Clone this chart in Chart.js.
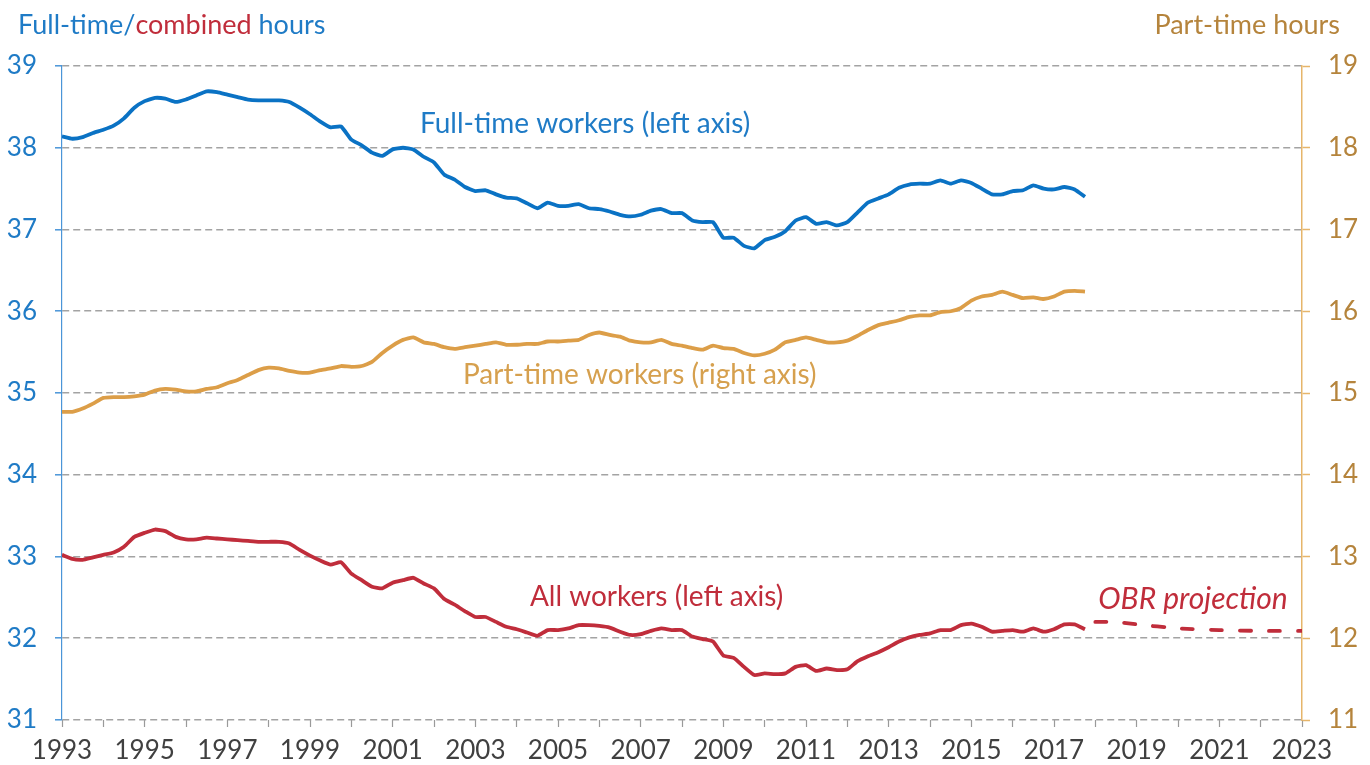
<!DOCTYPE html>
<html>
<head>
<meta charset="utf-8">
<script src="https://cdn.jsdelivr.net/npm/chart.js@4.4.0/dist/chart.umd.min.js"></script>
<style>
  html, body { margin: 0; padding: 0; background: #fff; }
</style>
</head>
<body>
<canvas id="hoursChart" width="1370" height="765"></canvas>
<script>
// quarterly series, 1993 Q1 .. 2017 Q4
const startYear = 1993;

const fullTime = [
  38.14, 38.11, 38.13, 38.18,  38.22, 38.27, 38.36, 38.49,
  38.57, 38.61, 38.60, 38.56,  38.59, 38.64, 38.69, 38.68,
  38.65, 38.62, 38.59, 38.58,  38.58, 38.58, 38.56, 38.49,
  38.41, 38.32, 38.25, 38.26,  38.10, 38.03, 37.94, 37.90,
  37.98, 38.00, 37.98, 37.89,  37.82, 37.67, 37.61, 37.52,
  37.47, 37.48, 37.43, 37.39,  37.38, 37.32, 37.26, 37.33,
  37.29, 37.29, 37.31, 37.26,  37.25, 37.22, 37.18, 37.16,
  37.18, 37.23, 37.25, 37.20,  37.20, 37.11, 37.09, 37.09,
  36.90, 36.90, 36.80, 36.77,  36.87, 36.91, 36.98, 37.11,
  37.15, 37.07, 37.09, 37.05,  37.09, 37.21, 37.33, 37.38,
  37.43, 37.51, 37.55, 37.56,  37.56, 37.60, 37.56, 37.60,
  37.57, 37.50, 37.43, 37.43,  37.47, 37.48, 37.54, 37.50,
  37.49, 37.52, 37.49, 37.40
];

const partTime = [
  14.77, 14.77, 14.81, 14.87,  14.94, 14.95, 14.95, 14.96,
  14.98, 15.03, 15.05, 15.04,  15.02, 15.02, 15.05, 15.07,
  15.12, 15.16, 15.22, 15.28,  15.31, 15.30, 15.27, 15.25,
  15.25, 15.28, 15.30, 15.33,  15.32, 15.33, 15.38, 15.49,
  15.58, 15.65, 15.68, 15.62,  15.60, 15.56, 15.54, 15.56,
  15.58, 15.60, 15.62, 15.59,  15.59, 15.60, 15.60, 15.63,
  15.63, 15.64, 15.65, 15.71,  15.74, 15.71, 15.69, 15.64,
  15.62, 15.62, 15.65, 15.60,  15.58, 15.55, 15.53, 15.58,
  15.55, 15.54, 15.49, 15.46,  15.48, 15.53, 15.62, 15.65,
  15.68, 15.65, 15.62, 15.62,  15.64, 15.70, 15.77, 15.83,
  15.86, 15.89, 15.93, 15.95,  15.95, 15.99, 16.00, 16.04,
  16.13, 16.18, 16.20, 16.24,  16.20, 16.16, 16.17, 16.15,
  16.18, 16.24, 16.25, 16.24
];

const allWorkers = [
  33.02, 32.97, 32.96, 32.99,  33.02, 33.05, 33.12, 33.24,
  33.29, 33.33, 33.31, 33.24,  33.21, 33.21, 33.23, 33.22,
  33.21, 33.20, 33.19, 33.18,  33.18, 33.18, 33.16, 33.08,
  33.01, 32.95, 32.90, 32.93,  32.79, 32.71, 32.63, 32.61,
  32.68, 32.71, 32.74, 32.67,  32.61, 32.48, 32.41, 32.33,
  32.26, 32.26, 32.20, 32.14,  32.11, 32.07, 32.03, 32.10,
  32.10, 32.12, 32.16, 32.16,  32.15, 32.13, 32.08, 32.04,
  32.05, 32.09, 32.12, 32.10,  32.10, 32.02, 31.99, 31.96,
  31.79, 31.76, 31.65, 31.55,  31.57, 31.56, 31.57, 31.65,
  31.67, 31.60, 31.63, 31.61,  31.62, 31.72, 31.78, 31.83,
  31.89, 31.96, 32.01, 32.04,  32.06, 32.10, 32.10, 32.16,
  32.18, 32.14, 32.08, 32.09,  32.10, 32.08, 32.12, 32.08,
  32.11, 32.17, 32.17, 32.11
];

// OBR projection for all workers
const projYears = [2018, 2018.5, 2019, 2020, 2021, 2022, 2023];
const projHours = [32.20, 32.20, 32.17, 32.12, 32.10, 32.09, 32.09];

const leftTicks = [31, 39];   // min / max
const rightTicks = [11, 19];
const yearRange = [1993, 2023];

const quarters = fullTime.map((_, i) => startYear + i / 4);
const toPoints = (xs, ys) => xs.map((x, i) => ({ x: x, y: ys[i] }));

const BLUE = '#0a72c4';
const GOLD = '#dc9e48';
const RED = '#c02d3b';
const FONT = 'Lato, "Open Sans", sans-serif';

// annotations placed in data units (x = year, y = left axis hours)
const notes = [
  { text: 'Full-time workers (left axis)', x: 2001.66, y: 38.29, color: '#1f7bc6', size: 28, italic: false },
  { text: 'Part-time workers (right axis)', x: 2002.7, y: 35.225, color: '#d6a04e', size: 28, italic: false },
  { text: 'All workers (left axis)', x: 2004.32, y: 32.51, color: RED, size: 28, italic: false },
  { text: 'OBR projection', x: 2018.07, y: 32.47, color: RED, size: 30, italic: true }
];

const textPlugin = {
  id: 'texts',
  afterDraw(chart) {
    const ctx = chart.ctx;
    const xs = chart.scales.x, ys = chart.scales.y;
    ctx.save();
    ctx.textBaseline = 'middle';
    ctx.font = '27px ' + FONT;

    // left axis title, two colours
    let tx = 18;
    [['Full-time/', '#1f7bc6'], ['combined', RED], [' hours', '#1f7bc6']].forEach(([s, c]) => {
      ctx.fillStyle = c;
      ctx.textAlign = 'left';
      ctx.fillText(s, tx, 25);
      tx += ctx.measureText(s).width;
    });

    ctx.fillStyle = '#b5843c';
    ctx.textAlign = 'right';
    ctx.fillText('Part-time hours', 1340, 25);

    notes.forEach(n => {
      ctx.font = (n.italic ? 'italic ' : '') + n.size + 'px ' + FONT;
      ctx.fillStyle = n.color;
      ctx.textAlign = 'left';
      ctx.fillText(n.text, xs.getPixelForValue(n.x), ys.getPixelForValue(n.y));
    });
    ctx.restore();
  }
};

new Chart(document.getElementById('hoursChart'), {
  type: 'line',
  data: {
    datasets: [
      {
        label: 'Full-time workers',
        data: toPoints(quarters, fullTime),
        borderColor: BLUE,
        borderWidth: 3.8,
        yAxisID: 'y'
      },
      {
        label: 'Part-time workers',
        data: toPoints(quarters, partTime),
        borderColor: GOLD,
        borderWidth: 3.8,
        yAxisID: 'y1'
      },
      {
        label: 'All workers',
        data: toPoints(quarters, allWorkers),
        borderColor: RED,
        borderWidth: 3.8,
        yAxisID: 'y'
      },
      {
        label: 'OBR projection',
        data: toPoints(projYears, projHours),
        borderColor: RED,
        borderWidth: 3.8,
        borderDash: [11, 18],
        borderCapStyle: 'round',
        yAxisID: 'y'
      }
    ]
  },
  options: {
    responsive: false,
    animation: false,
    devicePixelRatio: 1,
    layout: { padding: { top: 66, left: 0, right: 0, bottom: 0 } },
    elements: {
      point: { radius: 0 },
      line: { tension: 0.15, borderJoinStyle: 'round', fill: false }
    },
    plugins: {
      legend: { display: false },
      tooltip: { enabled: false }
    },
    scales: {
      x: {
        type: 'linear',
        min: yearRange[0],
        max: yearRange[1],
        afterFit: s => { s.height = 45; },
        border: { display: false },
        grid: {
          drawOnChartArea: false,
          tickLength: 7,
          tickColor: '#9a9a9a',
          tickWidth: 1.2
        },
        ticks: {
          stepSize: 1,
          maxTicksLimit: 40,
          autoSkip: false,
          maxRotation: 0,
          padding: 8,
          color: '#404040',
          font: { family: FONT, size: 26 },
          callback: v => ((v - yearRange[0]) % 2 === 0 ? String(v) : '')
        }
      },
      y: {
        position: 'left',
        min: leftTicks[0],
        max: leftTicks[1],
        afterFit: s => { s.width = 62; },
        border: { display: true, color: '#4a95d8', width: 1.2, dash: [7, 4] },
        grid: {
          color: '#a3a3a3',
          lineWidth: 1.6,
          tickLength: 7,
          tickColor: '#4a95d8',
          tickWidth: 1.5,
          tickBorderDash: []
        },
        ticks: {
          stepSize: 1,
          padding: 18,
          color: '#1f7bc6',
          font: { family: FONT, size: 26 }
        }
      },
      y1: {
        position: 'right',
        min: rightTicks[0],
        max: rightTicks[1],
        afterFit: s => { s.width = 68; },
        border: { display: true, color: '#e6b56a', width: 1.5 },
        grid: {
          drawOnChartArea: false,
          tickLength: 8,
          tickColor: '#e6b56a',
          tickWidth: 1.5
        },
        ticks: {
          stepSize: 1,
          padding: 18,
          color: '#b5843c',
          font: { family: FONT, size: 26 }
        }
      }
    }
  },
  plugins: [textPlugin]
});
</script>
</body>
</html>
